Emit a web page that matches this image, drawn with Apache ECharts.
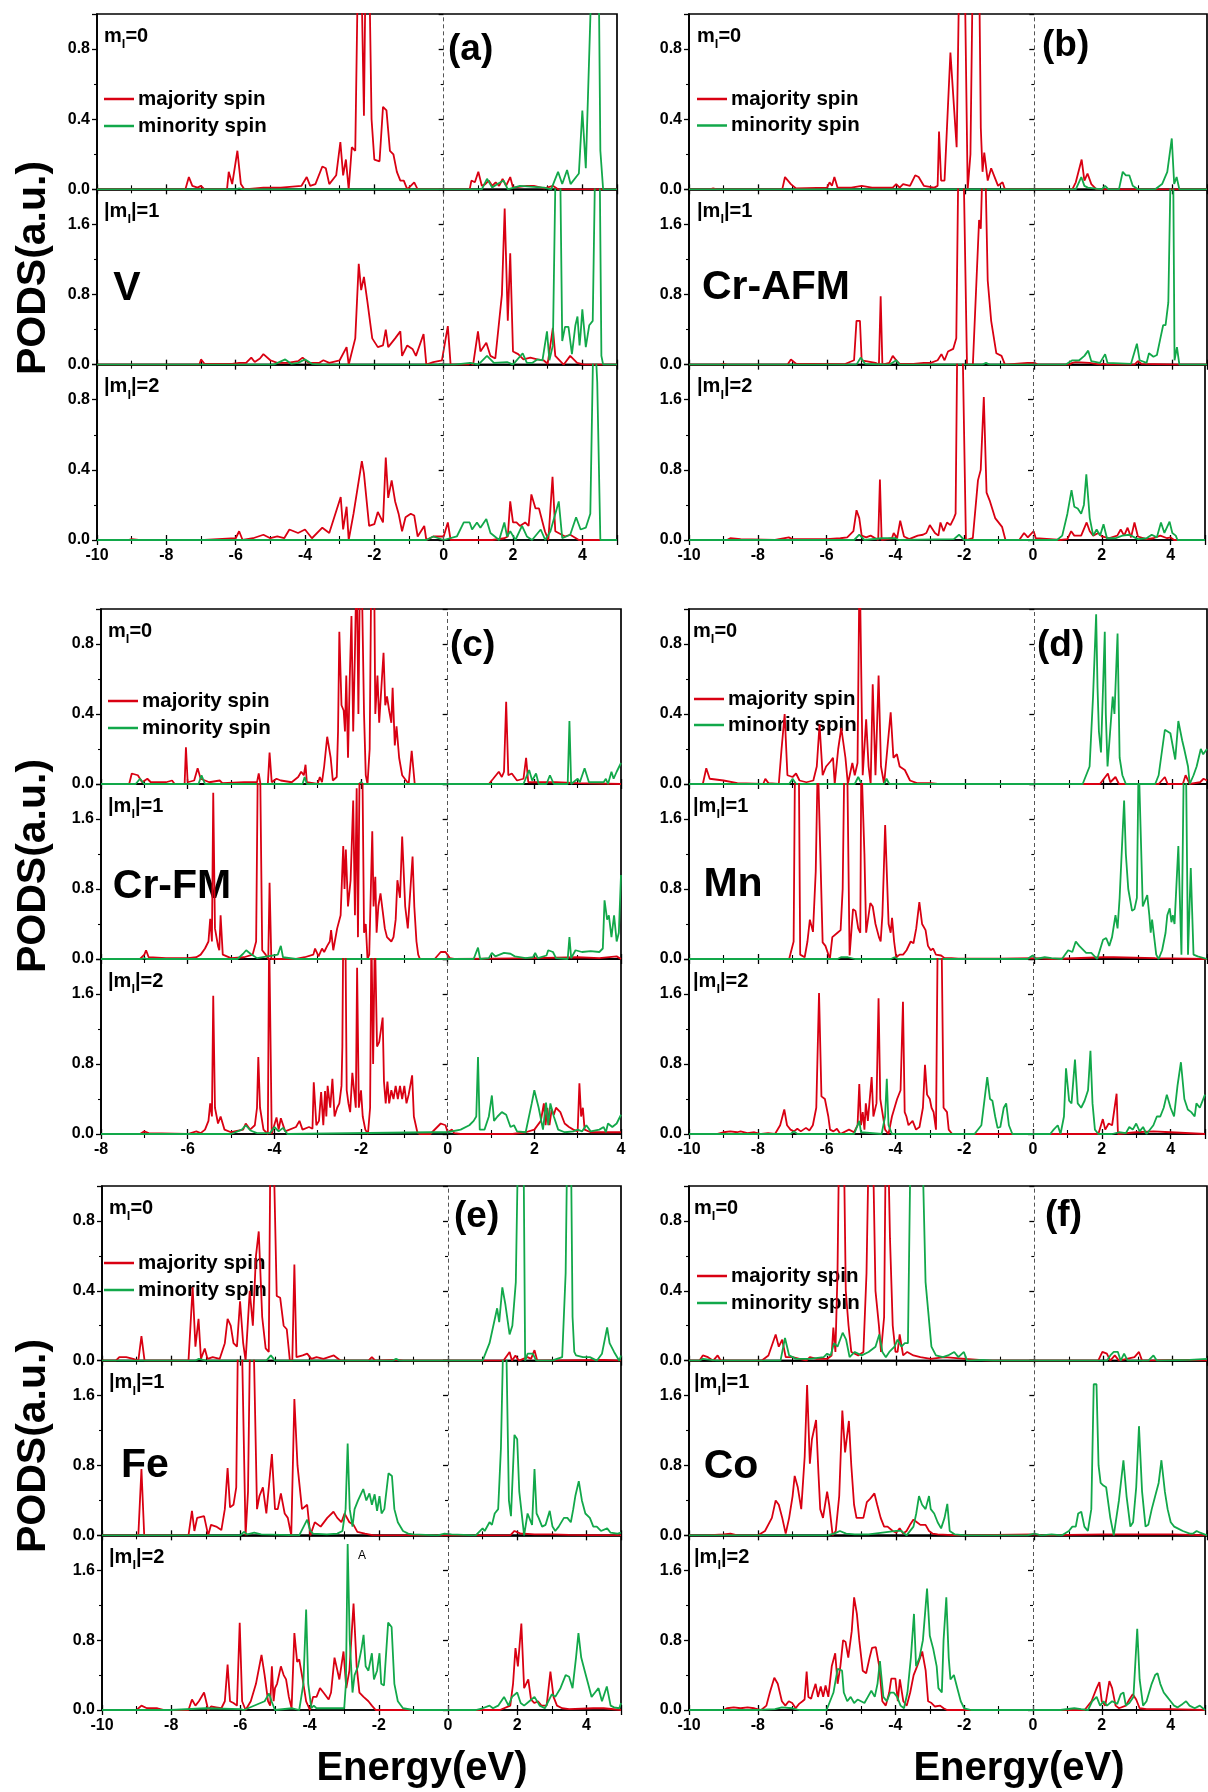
<!DOCTYPE html>
<html>
<head>
<meta charset="utf-8">
<script src="https://cdn.jsdelivr.net/npm/echarts@6/dist/echarts.min.js"></script>
<style>
  html, body { margin: 0; padding: 0; background: #fff; }
  #chart { width: 1208px; height: 1792px; }
</style>
</head>
<body>
<div id="chart"></div>
<script>
// ---- data: [energy (eV), PODS (a.u.)] ----
// (a) V
var aMaj0 = [[-10,0],[-7.45,0],[-7.35,0.07],[-7.25,0.02],[-7.1,0.01],[-7.0,0.02],[-6.9,0],[-6.25,0],[-6.2,0.1],[-6.1,0.03],[-5.95,0.22],[-5.85,0.03],[-5.75,0],[-5.2,0.01],[-4.7,0.01],[-4.1,0.02],[-3.95,0.07],[-3.85,0.02],[-3.7,0.03],[-3.5,0.13],[-3.4,0.12],[-3.3,0.03],[-3.1,0.08],[-2.98,0.27],[-2.9,0.08],[-2.82,0.17],[-2.74,0],[-2.65,0.24],[-2.55,0.22],[-2.47,1.3],[-2.38,1.3],[-2.3,0.42],[-2.25,1.3],[-2.15,1.3],[-2.08,0.4],[-2.0,0.17],[-1.85,0.16],[-1.75,0.47],[-1.65,0.45],[-1.55,0.22],[-1.45,0.2],[-1.35,0.1],[-1.25,0.05],[-1.15,0.05],[-1.05,0],[-0.85,0.04],[-0.75,0],[0.75,0],[0.8,0.05],[0.9,0.04],[1.0,0.1],[1.1,0.02],[1.2,0.03],[1.3,0.05],[1.4,0.02],[1.5,0.04],[1.6,0.02],[1.7,0.06],[1.8,0.02],[1.92,0.07],[2.0,0.01],[2.4,0.02],[2.6,0.02],[2.9,0.005],[3.15,0.02],[3.3,0],[5,0]];
var aMin0 = [[-10,0],[-6.0,0],[-5.9,0.005],[-5.8,0],[1.1,0],[1.25,0.06],[1.4,0.01],[1.55,0.03],[1.73,0.05],[1.85,0],[2.2,0.02],[2.5,0.015],[2.9,0.01],[3.1,0],[3.3,0.1],[3.42,0.03],[3.56,0.11],[3.66,0.03],[3.9,0.09],[4.0,0.45],[4.1,0.12],[4.28,1.3],[4.47,1.3],[4.52,0.22],[4.6,0],[5,0]];
var aMaj1 = [[-10,0],[-9.05,0],[-9.0,0.01],[-8.95,0],[-7.05,0],[-7.0,0.06],[-6.9,0.01],[-6.1,0.01],[-5.9,0.02],[-5.7,0.02],[-5.55,0.08],[-5.45,0.03],[-5.3,0.07],[-5.2,0.12],[-5.0,0.05],[-4.8,0.02],[-4.5,0.02],[-4.2,0.04],[-4.07,0.08],[-3.9,0.02],[-3.6,0.02],[-3.47,0.05],[-3.3,0.02],[-3.0,0.05],[-2.8,0.2],[-2.74,0],[-2.55,0.3],[-2.45,1.15],[-2.38,0.85],[-2.3,1.0],[-2.2,0.72],[-2.06,0.3],[-1.9,0.2],[-1.75,0.22],[-1.67,0.4],[-1.6,0.2],[-1.4,0.3],[-1.25,0.38],[-1.2,0.1],[-1.05,0.22],[-0.9,0.18],[-0.8,0.1],[-0.58,0.35],[-0.5,0],[-0.3,0.03],[-0.05,0.05],[0.12,0.44],[0.2,0],[0.7,0],[0.77,0.02],[0.85,0],[0.99,0.38],[1.06,0.15],[1.23,0.25],[1.35,0.1],[1.49,0.07],[1.68,0.8],[1.76,1.78],[1.85,0.5],[1.92,1.27],[2.0,0.15],[2.15,0.12],[2.3,0.06],[2.5,0.08],[2.7,0.06],[2.88,0.05],[3.0,0.01],[3.15,0.42],[3.22,0.1],[3.46,0],[3.65,0.1],[3.85,0.02],[4.05,0],[5,0]];
var aMin1 = [[-10,0],[-4.9,0],[-4.57,0.06],[-4.4,0.01],[-4.2,0.02],[-4.0,0.06],[-3.8,0.01],[-3.5,0],[0.3,0],[0.77,0.02],[1.0,0],[1.25,0.1],[1.45,0.02],[1.83,0.03],[2.0,0],[2.28,0.13],[2.4,0.02],[2.55,0.02],[2.7,0.06],[2.85,0.05],[2.98,0.38],[3.05,0.05],[3.15,0.22],[3.23,2.3],[3.36,2.3],[3.42,0.27],[3.5,0.43],[3.6,0.43],[3.7,0.12],[3.8,0.45],[3.86,0.55],[3.92,0.22],[3.95,0.35],[4.0,0.63],[4.1,0.2],[4.2,0.45],[4.3,0.5],[4.37,2.3],[4.5,2.3],[4.55,0.1],[4.6,0],[5,0]];
var aMaj2 = [[-10,0],[-9.1,0],[-9.0,0.005],[-8.8,0],[-7.05,0],[-7.0,0.01],[-6.9,0],[-6.0,0.01],[-5.9,0.05],[-5.8,0],[-5.5,0.01],[-5.2,0.03],[-5.0,0.01],[-4.8,0.02],[-4.6,0.01],[-4.45,0.06],[-4.2,0.04],[-4.0,0.06],[-3.8,0.01],[-3.5,0.07],[-3.3,0.04],[-2.97,0.245],[-2.9,0.06],[-2.8,0.19],[-2.74,0],[-2.6,0.15],[-2.36,0.45],[-2.3,0.38],[-2.15,0.08],[-2.0,0.09],[-1.9,0.16],[-1.75,0.1],[-1.67,0.47],[-1.6,0.24],[-1.5,0.34],[-1.4,0.22],[-1.3,0.15],[-1.2,0.05],[-1.1,0.13],[-0.95,0.15],[-0.85,0.14],[-0.75,0.02],[-0.56,0.08],[-0.5,0],[-0.3,0.02],[0.0,0.02],[0.12,0.1],[0.2,0],[1.4,0],[1.75,0.01],[1.85,0.02],[1.92,0.22],[2.0,0.1],[2.1,0.1],[2.2,0.08],[2.35,0.1],[2.45,0.08],[2.53,0.26],[2.65,0.18],[2.75,0.18],[2.92,0.05],[3.02,0],[3.14,0.36],[3.22,0.05],[3.5,0.02],[3.65,0.03],[3.9,0],[5,0]];
var aMin2 = [[-10,0],[-0.5,0],[-0.3,0.02],[0.0,0],[0.38,0.02],[0.58,0.1],[0.75,0.1],[0.82,0.06],[0.96,0.1],[1.06,0.07],[1.23,0.12],[1.35,0.04],[1.6,0],[1.75,0.1],[1.83,0.02],[1.92,0.05],[2.07,0],[2.26,0.08],[2.4,0.02],[2.55,0],[2.8,0.06],[2.93,0],[3.08,0.05],[3.32,0.22],[3.42,0.01],[3.65,0.03],[3.82,0.13],[3.95,0.06],[4.1,0.07],[4.23,0.15],[4.33,1.3],[4.43,0.9],[4.52,0],[5,0]];
// (b) Cr-AFM
var bMaj0 = [[-10,0],[-9.4,0],[-9.3,0.005],[-9.2,0],[-7.3,0],[-7.22,0.07],[-7.05,0.03],[-6.9,0.005],[-6.0,0.01],[-5.93,0.04],[-5.86,0.02],[-5.79,0.07],[-5.7,0.01],[-5.3,0.01],[-5.0,0.02],[-4.7,0.01],[-4.1,0.01],[-4.0,0.03],[-3.9,0.01],[-3.8,0.03],[-3.6,0.02],[-3.45,0.08],[-3.35,0.07],[-3.2,0.02],[-2.9,0.01],[-2.8,0.02],[-2.76,0.33],[-2.7,0.05],[-2.6,0.05],[-2.43,0.78],[-2.25,0.24],[-2.17,1.3],[-2.02,1.3],[-1.93,0],[-1.85,0.2],[-1.78,1.3],[-1.6,1.3],[-1.55,0.35],[-1.5,0.1],[-1.45,0.21],[-1.35,0.05],[-1.25,0.12],[-1.15,0.07],[-1.05,0.02],[-0.92,0.04],[-0.85,0],[1.1,0],[1.2,0.04],[1.37,0.17],[1.45,0.05],[1.54,0.09],[1.65,0.03],[1.8,0],[5,0]];
var bMin0 = [[-10,0],[1.2,0],[1.36,0.07],[1.45,0.02],[1.55,0.01],[1.95,0],[2.05,0.02],[2.15,0],[2.45,0],[2.56,0.1],[2.65,0.08],[2.75,0.08],[2.85,0.02],[3.0,0],[3.5,0],[3.7,0.03],[3.85,0.1],[3.98,0.29],[4.05,0.03],[4.12,0.07],[4.2,0],[5,0]];
var bMaj1 = [[-10,0],[-9.1,0],[-9.0,0.01],[-8.9,0],[-7.15,0],[-7.05,0.06],[-6.9,0.01],[-6.5,0.01],[-5.5,0.005],[-5.22,0.05],[-5.15,0.5],[-5.05,0.5],[-5.0,0.05],[-4.6,0.02],[-4.5,0],[-4.45,0.78],[-4.4,0],[-4.2,0.02],[-4.1,0.1],[-4.0,0.05],[-3.9,0.01],[-3.5,0.01],[-3.2,0.02],[-3.0,0.02],[-2.8,0.05],[-2.69,0.12],[-2.6,0.05],[-2.5,0.15],[-2.35,0.18],[-2.26,0.3],[-2.2,2.3],[-2.05,2.3],[-1.95,0],[-1.78,0],[-1.6,1.65],[-1.55,1.55],[-1.5,2.3],[-1.42,2.3],[-1.35,0.96],[-1.25,0.5],[-1.1,0.13],[-0.95,0.1],[-0.85,0],[-0.2,0.02],[0.0,0.02],[0.1,0],[1.0,0],[1.1,0.02],[1.2,0.03],[1.6,0.02],[1.9,0],[2.0,0.01],[2.1,0],[2.9,0],[3.0,0.04],[3.1,0.01],[4.2,0],[5,0]];
var bMin1 = [[-10,0],[-5.15,0],[-5.03,0.08],[-4.9,0.01],[-4.2,0],[-4.0,0.05],[-3.9,0],[-1.5,0],[-1.4,0.02],[-1.3,0],[0.9,0],[1.1,0.05],[1.3,0.05],[1.45,0.1],[1.56,0.16],[1.65,0.04],[1.9,0.02],[2.05,0.12],[2.12,0.02],[2.8,0.01],[2.97,0.24],[3.05,0.05],[3.25,0.02],[3.32,0.13],[3.45,0.09],[3.55,0.11],[3.65,0.3],[3.73,0.45],[3.8,0.45],[3.88,0.71],[3.95,2.3],[4.02,2.3],[4.06,0.05],[4.13,0.2],[4.2,0],[5,0]];
var bMaj2 = [[-10,0],[-8.9,0],[-8.8,0.02],[-8.5,0.01],[-7.5,0],[-7.1,0.03],[-7.0,0.01],[-6.0,0.01],[-5.6,0.02],[-5.4,0.03],[-5.22,0.1],[-5.13,0.34],[-5.05,0.25],[-4.98,0.05],[-4.85,0.03],[-4.72,0.05],[-4.5,0],[-4.45,0.69],[-4.4,0],[-4.1,0.02],[-4.05,0.08],[-3.95,0.02],[-3.86,0.22],[-3.75,0.04],[-3.6,0.01],[-3.35,0.05],[-3.2,0.06],[-3.1,0.08],[-3.0,0.17],[-2.85,0.08],[-2.75,0.05],[-2.69,0.2],[-2.6,0.1],[-2.5,0.2],[-2.4,0.17],[-2.3,0.25],[-2.25,0.3],[-2.2,2.3],[-2.05,2.3],[-1.95,0],[-1.75,0.02],[-1.6,0.68],[-1.52,0.8],[-1.43,1.63],[-1.35,0.54],[-1.25,0.44],[-1.1,0.25],[-0.9,0.15],[-0.8,0],[-0.4,0],[-0.26,0.08],[-0.15,0.03],[0.02,0.1],[0.08,0.02],[0.5,0.01],[0.8,0],[1.0,0.01],[1.11,0.1],[1.2,0.05],[1.4,0.05],[1.56,0.2],[1.65,0.1],[1.75,0.05],[1.9,0.08],[2.0,0.04],[2.2,0.02],[2.45,0.05],[2.55,0.12],[2.65,0.05],[2.75,0.14],[2.85,0.03],[2.95,0.2],[3.05,0.04],[3.3,0.01],[3.5,0.02],[3.7,0.05],[3.9,0.02],[4.0,0.03],[4.1,0],[5,0]];
var bMin2 = [[-10,0],[-5.2,0],[-5.05,0.06],[-4.9,0],[-4.4,0.02],[-4.0,0.02],[-3.9,0],[-2.3,0.01],[-2.15,0.06],[-2.0,0],[0.7,0],[0.85,0.05],[1.0,0.3],[1.12,0.57],[1.2,0.38],[1.3,0.36],[1.4,0.3],[1.48,0.4],[1.55,0.75],[1.65,0.25],[1.75,0.05],[1.85,0.12],[1.95,0.05],[2.05,0.18],[2.15,0.02],[2.4,0.02],[2.6,0.05],[2.8,0.06],[2.95,0.03],[3.05,0.01],[3.3,0.02],[3.45,0.06],[3.6,0.03],[3.72,0.2],[3.82,0.08],[3.97,0.21],[4.05,0.08],[4.15,0.05],[4.2,0],[5,0]];
// (c) Cr-FM
var cMaj0 = [[-8,0],[-7.35,0],[-7.29,0.06],[-7.15,0.05],[-7.05,0.01],[-6.93,0.03],[-6.85,0.01],[-6.5,0.01],[-6.36,0.02],[-6.3,0],[-6.07,0],[-6.04,0.21],[-6.0,0.01],[-5.85,0.02],[-5.77,0.09],[-5.7,0.03],[-5.5,0.01],[-5.26,0.02],[-5.2,0.005],[-4.7,0.01],[-4.4,0.01],[-4.36,0.06],[-4.32,0],[-4.15,0],[-4.11,0.18],[-4.06,0.01],[-3.95,0.03],[-3.85,0.02],[-3.6,0.01],[-3.45,0.04],[-3.38,0.07],[-3.32,0.05],[-3.28,0.11],[-3.25,0.01],[-3.0,0],[-2.95,0.04],[-2.9,0.01],[-2.85,0.1],[-2.78,0.27],[-2.7,0.15],[-2.65,0.02],[-2.56,0.04],[-2.53,0.3],[-2.5,0.87],[-2.45,0.45],[-2.4,0.42],[-2.37,0.3],[-2.34,0.62],[-2.3,0.15],[-2.26,0.6],[-2.22,0.96],[-2.18,0.3],[-2.14,0.75],[-2.1,1.3],[-2.06,0.4],[-2.02,1.3],[-1.97,1.0],[-1.93,0.4],[-1.89,0.05],[-1.85,0],[-1.8,0.2],[-1.76,1.3],[-1.7,1.3],[-1.67,0.4],[-1.62,0.62],[-1.58,0.35],[-1.53,0.55],[-1.48,0.75],[-1.44,0.45],[-1.4,0.5],[-1.35,0.42],[-1.3,0.35],[-1.27,0.55],[-1.22,0.22],[-1.18,0.33],[-1.12,0.15],[-1.05,0.05],[-0.9,0],[-0.83,0.19],[-0.76,0],[0.95,0],[1.05,0.03],[1.18,0.07],[1.25,0.04],[1.3,0.07],[1.35,0.47],[1.4,0.05],[1.48,0.06],[1.6,0.02],[1.75,0.03],[1.81,0.15],[1.86,0.01],[2.0,0.01],[2.5,0.01],[3.0,0.005],[4,0]];
var cMin0 = [[-8,0],[-7.2,0],[-7.1,0.03],[-7.0,0],[-5.75,0],[-5.68,0.05],[-5.6,0],[-3.35,0],[-3.3,0.04],[-3.25,0],[-2.05,0],[-2.0,0.01],[-1.95,0],[1.75,0],[1.88,0.08],[1.95,0.02],[2.04,0.06],[2.1,0],[2.28,0],[2.36,0.05],[2.45,0],[2.77,0],[2.81,0.36],[2.85,0],[3.0,0.03],[3.05,0.01],[3.16,0.09],[3.26,0.01],[3.6,0.01],[3.65,0.03],[3.7,0],[3.78,0.07],[3.83,0.03],[3.9,0.07],[4.0,0.12]];
var cMaj1 = [[-8,0],[-7.1,0],[-7.0,0.05],[-6.96,0.1],[-6.9,0.02],[-6.5,0.01],[-6.0,0.01],[-5.8,0.02],[-5.7,0.05],[-5.6,0.12],[-5.52,0.2],[-5.48,0.46],[-5.44,0.2],[-5.41,1.9],[-5.37,0.35],[-5.3,0.15],[-5.27,0.1],[-5.24,0.5],[-5.19,0.05],[-5.0,0.01],[-4.7,0.02],[-4.5,0.05],[-4.42,0.2],[-4.38,2.3],[-4.33,2.3],[-4.28,0.1],[-4.2,0.05],[-4.14,0],[-4.11,0.87],[-4.07,0],[-3.5,0],[-3.3,0.02],[-3.1,0.05],[-3.06,0.12],[-2.98,0.03],[-2.9,0.12],[-2.85,0.08],[-2.78,0.15],[-2.72,0.2],[-2.69,0.33],[-2.64,0.1],[-2.55,0.35],[-2.47,0.5],[-2.44,0.9],[-2.41,1.29],[-2.38,0.8],[-2.35,1.25],[-2.3,0.6],[-2.24,0.9],[-2.18,1.81],[-2.14,0.5],[-2.1,1.95],[-2.07,0.25],[-2.03,2.3],[-1.97,2.3],[-1.93,0.3],[-1.89,0.4],[-1.85,0],[-1.81,0.05],[-1.74,1.46],[-1.71,0.6],[-1.67,0.94],[-1.64,0.3],[-1.6,0.6],[-1.55,0.75],[-1.5,0.55],[-1.45,0.35],[-1.4,0.25],[-1.3,0.2],[-1.25,0.25],[-1.2,0.45],[-1.16,0.9],[-1.1,0.7],[-1.05,1.4],[-0.98,0.6],[-0.92,0.35],[-0.81,1.17],[-0.77,0.6],[-0.72,0.2],[-0.68,0.05],[-0.64,0],[-0.3,0],[-0.16,0.08],[-0.05,0.08],[0.05,0.01],[0.15,0],[1.0,0.005],[2.0,0.01],[3.0,0.02],[3.5,0.01],[3.9,0.03],[4,0]];
var cMin1 = [[-8,0],[-7.05,0],[-7.0,0.01],[-6.95,0],[-4.85,0],[-4.72,0.06],[-4.65,0.1],[-4.55,0.06],[-4.4,0.01],[-3.92,0.05],[-3.85,0.15],[-3.8,0.02],[-3.5,0],[0.6,0],[0.7,0.13],[0.75,0],[0.95,0.01],[1.02,0.07],[1.1,0.03],[1.2,0.05],[1.3,0.07],[1.45,0.06],[1.55,0.03],[1.8,0.01],[1.97,0.02],[2.02,0.07],[2.08,0.01],[2.28,0.04],[2.32,0.1],[2.43,0.08],[2.5,0.01],[2.77,0],[2.81,0.25],[2.85,0.01],[2.95,0.1],[3.1,0.08],[3.3,0.09],[3.5,0.08],[3.58,0.12],[3.62,0.67],[3.68,0.45],[3.72,0.5],[3.78,0.25],[3.84,0.5],[3.9,0.2],[3.95,0.3],[4.0,0.96]];
var cMaj2 = [[-8,0],[-7.1,0],[-7.0,0.03],[-6.96,0.05],[-6.9,0.01],[-6.0,0],[-5.8,0.03],[-5.7,0.01],[-5.6,0.05],[-5.52,0.15],[-5.48,0.35],[-5.44,0.2],[-5.41,1.58],[-5.37,0.3],[-5.3,0.12],[-5.24,0.2],[-5.15,0.05],[-5.0,0.02],[-4.72,0.05],[-4.66,0.12],[-4.56,0.05],[-4.45,0.1],[-4.4,0.3],[-4.37,0.88],[-4.33,0.3],[-4.25,0.05],[-4.15,0],[-4.12,2.3],[-4.09,2.3],[-4.06,0],[-3.95,0.19],[-3.9,0.05],[-3.85,0.18],[-3.75,0.03],[-3.5,0.08],[-3.42,0.15],[-3.35,0.05],[-3.2,0.08],[-3.12,0.06],[-3.09,0.59],[-3.03,0.1],[-2.97,0.15],[-2.92,0.48],[-2.87,0.1],[-2.83,0.49],[-2.8,0.2],[-2.77,0.55],[-2.71,0.3],[-2.66,0.63],[-2.61,0.2],[-2.55,0.3],[-2.5,0.35],[-2.45,0.55],[-2.43,1.0],[-2.41,2.3],[-2.36,2.3],[-2.33,0.5],[-2.29,0.35],[-2.25,0.25],[-2.2,0.7],[-2.15,0.45],[-2.12,0.3],[-2.09,1.9],[-2.05,0.3],[-2.0,0.5],[-1.96,0.2],[-1.9,0.05],[-1.84,0],[-1.79,0.3],[-1.76,2.3],[-1.72,0.8],[-1.68,2.3],[-1.63,1.0],[-1.58,1.05],[-1.5,1.33],[-1.47,0.6],[-1.43,0.35],[-1.39,0.6],[-1.35,0.35],[-1.3,0.5],[-1.25,0.4],[-1.2,0.55],[-1.15,0.4],[-1.1,0.55],[-1.05,0.4],[-1.0,0.55],[-0.95,0.35],[-0.9,0.45],[-0.82,0.67],[-0.78,0.2],[-0.7,0.02],[-0.65,0],[-0.4,0],[-0.16,0.12],[-0.05,0.1],[0.0,0.02],[0.1,0.05],[0.15,0.01],[0.3,0],[1.5,0],[1.8,0.02],[2.0,0.05],[2.15,0.15],[2.22,0.35],[2.26,0.1],[2.3,0.3],[2.35,0.1],[2.4,0.28],[2.45,0.22],[2.5,0.3],[2.6,0.25],[2.7,0.12],[2.8,0.08],[2.9,0.05],[3.0,0.03],[3.04,0.58],[3.08,0.2],[3.12,0.3],[3.16,0.05],[3.3,0.02],[4,0.02]];
var cMin2 = [[-8,0],[-5.0,0],[-4.75,0.05],[-4.66,0.1],[-4.55,0.04],[-4.4,0.01],[-4.1,0.01],[-4.0,0.08],[-3.9,0.03],[-3.8,0.07],[-3.7,0],[-0.4,0.02],[0.0,0.02],[0.3,0.05],[0.5,0.1],[0.6,0.15],[0.66,0.2],[0.7,0.88],[0.74,0.05],[0.85,0.05],[0.95,0.2],[1.02,0.44],[1.07,0.15],[1.15,0.2],[1.25,0.25],[1.35,0.22],[1.45,0.08],[1.53,0.1],[1.6,0.03],[1.8,0.02],[1.94,0.35],[2.0,0.5],[2.1,0.3],[2.2,0.05],[2.27,0.36],[2.32,0.1],[2.37,0.35],[2.45,0.2],[2.55,0.05],[2.7,0.02],[2.9,0.03],[3.0,0.05],[3.1,0.03],[3.2,0.1],[3.3,0.03],[3.5,0.05],[3.6,0.08],[3.65,0.02],[3.7,0.12],[3.8,0.08],[3.9,0.12],[4.0,0.22]];
// (d) Mn
var dMaj0 = [[-10,0],[-9.6,0],[-9.5,0.09],[-9.4,0.03],[-9.0,0.02],[-8.6,0.005],[-7.85,0],[-7.79,0.03],[-7.7,0.005],[-7.4,0],[-7.32,0.2],[-7.23,0.4],[-7.15,0.05],[-7.0,0.04],[-6.9,0.06],[-6.8,0.02],[-6.6,0.01],[-6.4,0.02],[-6.3,0.1],[-6.22,0.34],[-6.13,0.05],[-6.03,0.1],[-5.9,0.13],[-5.83,0.15],[-5.78,0],[-5.68,0.2],[-5.59,0.32],[-5.47,0.15],[-5.4,0],[-5.27,0.12],[-5.2,0.05],[-5.12,0.12],[-5.06,1.3],[-5.02,1.3],[-4.97,0.05],[-4.87,0.37],[-4.8,0.1],[-4.74,0],[-4.68,0.57],[-4.6,0.05],[-4.51,0.62],[-4.44,0.1],[-4.35,0],[-4.16,0.41],[-4.08,0.15],[-3.98,0.17],[-3.9,0.1],[-3.75,0.08],[-3.6,0.02],[-3.4,0.005],[-3.0,0.005],[-2.8,0],[1.9,0],[2.13,0.06],[2.2,0.01],[2.35,0.04],[2.45,0],[3.6,0],[3.78,0.04],[3.86,0],[4.3,0],[4.38,0.05],[4.5,0],[4.8,0.01],[4.9,0.03],[5,0.02]];
var dMin0 = [[-10,0],[-7.1,0],[-7.0,0.03],[-6.9,0],[-5.2,0],[-5.1,0.04],[-5.0,0],[-4.35,0],[-4.28,0.03],[-4.2,0],[1.4,0],[1.6,0.1],[1.7,0.5],[1.79,0.97],[1.83,0.55],[1.87,0.3],[1.93,0.18],[2.04,0.87],[2.07,0.4],[2.12,0.1],[2.27,0.5],[2.32,0.4],[2.41,0.86],[2.47,0.15],[2.55,0.05],[2.65,0],[3.5,0],[3.6,0.05],[3.78,0.31],[3.94,0.29],[4.08,0.14],[4.17,0.36],[4.28,0.25],[4.34,0.2],[4.45,0.1],[4.5,0],[4.61,0.05],[4.7,0.1],[4.82,0.2],[4.89,0.17],[5.0,0.2]];
var dMaj1 = [[-10,0],[-7.1,0],[-6.97,0.2],[-6.93,2.3],[-6.82,2.3],[-6.78,0.05],[-6.65,0.02],[-6.57,0.2],[-6.5,0.45],[-6.41,0.31],[-6.33,1.0],[-6.27,2.3],[-6.22,2.3],[-6.13,0.19],[-6.05,0.15],[-5.92,0],[-5.85,0.25],[-5.7,0.3],[-5.61,0.33],[-5.55,0.8],[-5.5,2.3],[-5.42,2.3],[-5.35,0.04],[-5.25,0.57],[-5.18,0.55],[-5.1,0.35],[-5.04,0.3],[-5.01,2.3],[-4.97,2.3],[-4.92,1.2],[-4.87,0.3],[-4.75,0.64],[-4.68,0.6],[-4.6,0.4],[-4.5,0.25],[-4.45,0.2],[-4.4,0.5],[-4.36,1.0],[-4.32,1.53],[-4.22,0.4],[-4.16,0.3],[-4.12,0.47],[-4.06,0.2],[-4.0,0.02],[-3.9,0.05],[-3.8,0.05],[-3.7,0.1],[-3.58,0.2],[-3.5,0.18],[-3.42,0.35],[-3.33,0.65],[-3.25,0.4],[-3.15,0.33],[-3.08,0.15],[-3.0,0.1],[-2.93,0.12],[-2.85,0.05],[-2.7,0.04],[-2.6,0.01],[-2.4,0.01],[-2.2,0.005],[-1.0,0.005],[0.0,0.01],[0.5,0],[2.0,0.02],[2.3,0.02],[3.5,0.01],[5,0]];
var dMin1 = [[-10,0],[-5.7,0],[-5.6,0.02],[-5.4,0.02],[-5.2,0],[-4.15,0],[-4.05,0.02],[-3.95,0],[-0.2,0],[-0.05,0.04],[0.05,0],[0.3,0.02],[0.5,0.01],[0.8,0],[0.98,0.1],[1.1,0.08],[1.2,0.2],[1.3,0.15],[1.5,0.07],[1.65,0.07],[1.82,0],[1.99,0.22],[2.08,0.24],[2.17,0.15],[2.25,0.25],[2.35,0.5],[2.41,0.35],[2.47,0.7],[2.6,1.81],[2.65,1.2],[2.72,0.8],[2.83,0.55],[2.9,0.57],[2.97,0.7],[3.02,2.3],[3.07,2.3],[3.14,0.6],[3.27,0.73],[3.33,0.5],[3.37,0.3],[3.41,0.45],[3.53,0.05],[3.6,0],[3.7,0.1],[3.8,0.3],[3.85,0.5],[3.92,0.58],[3.97,0.42],[4.01,0.5],[4.06,0.4],[4.17,1.29],[4.26,0.05],[4.33,2.3],[4.39,2.3],[4.45,0.05],[4.53,1.04],[4.61,0.05],[4.73,0.03],[5,0]];
var dMaj2 = [[-10,0],[-9.2,0],[-9.0,0.02],[-8.8,0.03],[-8.6,0.02],[-8.5,0.03],[-8.3,0.01],[-8.1,0.02],[-7.9,0],[-7.7,0.01],[-7.5,0],[-7.35,0.1],[-7.23,0.28],[-7.15,0.1],[-7.05,0.05],[-6.95,0.03],[-6.85,0.06],[-6.75,0.03],[-6.6,0.07],[-6.5,0.04],[-6.4,0.1],[-6.3,0.3],[-6.22,1.61],[-6.15,0.43],[-6.05,0.4],[-5.95,0.2],[-5.9,0.05],[-5.8,0.03],[-5.7,0.06],[-5.6,0],[-5.35,0.05],[-5.2,0.02],[-5.1,0.1],[-5.05,0.57],[-5.0,0.1],[-4.95,0.25],[-4.9,0.05],[-4.86,0.35],[-4.8,0.15],[-4.69,0.65],[-4.64,0.2],[-4.6,0.2],[-4.55,0.35],[-4.49,1.55],[-4.44,0.4],[-4.38,0.25],[-4.3,0.05],[-4.2,0],[-4.1,0.2],[-3.95,0.4],[-3.85,0.5],[-3.78,1.51],[-3.73,0.25],[-3.68,0.2],[-3.62,0.1],[-3.5,0.15],[-3.4,0.05],[-3.3,0.08],[-3.2,0.3],[-3.14,0.79],[-3.08,0.45],[-3.0,0.4],[-2.95,0.3],[-2.89,0.25],[-2.82,0.05],[-2.77,2.3],[-2.66,2.3],[-2.6,0.3],[-2.5,0.25],[-2.45,0.05],[-2.35,0],[1.9,0],[2.03,0.17],[2.1,0.05],[2.2,0.12],[2.3,0.1],[2.35,0.12],[2.43,0.46],[2.47,0],[3.0,0.02],[3.5,0.03],[4.0,0.02],[5,0]];
var dMin2 = [[-10,0],[-7.05,0],[-6.95,0.03],[-6.85,0],[-5.2,0],[-5.1,0.1],[-5.05,0.15],[-5.0,0.02],[-4.4,0],[-4.3,0.2],[-4.25,0.63],[-4.2,0.1],[-4.1,0],[-1.7,0],[-1.5,0.1],[-1.33,0.65],[-1.25,0.4],[-1.18,0.38],[-1.1,0.2],[-1.03,0.07],[-0.95,0.08],[-0.85,0.3],[-0.78,0.35],[-0.7,0.1],[-0.6,0],[0.5,0],[0.6,0.05],[0.72,0.1],[0.8,0],[0.9,0.2],[0.96,0.75],[1.05,0.38],[1.12,0.35],[1.22,0.85],[1.3,0.35],[1.4,0.3],[1.5,0.38],[1.6,0.5],[1.67,0.95],[1.73,0.35],[1.8,0.05],[1.9,0],[2.3,0],[2.5,0.02],[2.7,0.01],[2.8,0.08],[2.9,0.05],[3.0,0.12],[3.1,0.03],[3.2,0.08],[3.3,0],[3.5,0.1],[3.6,0.2],[3.7,0.2],[3.8,0.3],[3.89,0.45],[4.0,0.3],[4.1,0.2],[4.2,0.55],[4.3,0.82],[4.4,0.4],[4.5,0.28],[4.6,0.25],[4.7,0.2],[4.75,0.35],[4.85,0.3],[5.0,0.45]];
// (e) Fe
var eMaj0 = [[-10,0],[-9.6,0],[-9.5,0.02],[-9.3,0.02],[-9.1,0.01],[-8.95,0],[-8.86,0.14],[-8.77,0],[-7.5,0],[-7.38,0.42],[-7.3,0.08],[-7.21,0.24],[-7.14,0.01],[-7.03,0.07],[-6.95,0.01],[-6.8,0.02],[-6.6,0.01],[-6.45,0.1],[-6.37,0.24],[-6.28,0.2],[-6.2,0.1],[-6.1,0.08],[-6.01,0.34],[-5.92,0.1],[-5.85,0],[-5.73,0.4],[-5.64,0.2],[-5.55,0.6],[-5.47,0.74],[-5.37,0.25],[-5.27,0.07],[-5.18,0.05],[-5.13,1.3],[-5.05,1.3],[-4.95,0.37],[-4.85,0.36],[-4.75,0.2],[-4.66,0.18],[-4.57,0],[-4.5,0],[-4.44,0.55],[-4.38,0.02],[-4.2,0.03],[-4.07,0.04],[-3.95,0.01],[-3.8,0.02],[-3.6,0.01],[-3.3,0.03],[-3.1,0],[-2.3,0],[-2.2,0.02],[-2.1,0],[-1.5,0.005],[-1.3,0],[1.6,0],[1.78,0.05],[1.85,0],[1.95,0.03],[2.05,0],[2.3,0.02],[2.4,0.01],[2.5,0.06],[2.58,0],[4.5,0.005],[5,0]];
var eMin0 = [[-10,0],[-7.3,0],[-7.2,0.01],[-7.0,0],[-5.25,0],[-5.12,0.03],[-5.0,0],[-1.6,0],[-1.5,0.01],[-1.4,0],[1.0,0],[1.2,0.1],[1.42,0.3],[1.48,0.22],[1.57,0.42],[1.66,0.32],[1.78,0.15],[1.86,0.2],[1.96,0.45],[2.03,1.3],[2.18,1.3],[2.23,0],[2.3,0.04],[2.45,0.04],[2.55,0],[3.0,0],[3.3,0.02],[3.4,0.5],[3.45,1.3],[3.55,1.3],[3.6,0.25],[3.65,0.05],[3.7,0.03],[3.9,0.02],[4.1,0.02],[4.3,0],[4.45,0.04],[4.6,0.19],[4.67,0.1],[4.8,0.05],[4.95,0],[5.0,0.03]];
var eMaj1 = [[-10,0],[-8.95,0],[-8.86,0.76],[-8.78,0],[-7.5,0],[-7.4,0.28],[-7.33,0.05],[-7.25,0.2],[-7.05,0.22],[-6.93,0],[-6.85,0.12],[-6.7,0.1],[-6.55,0.06],[-6.45,0.3],[-6.37,0.77],[-6.3,0.32],[-6.2,0.35],[-6.12,0.55],[-6.07,2.3],[-5.96,2.3],[-5.85,0],[-5.78,0.5],[-5.72,2.3],[-5.62,2.3],[-5.52,0.3],[-5.45,0.45],[-5.35,0.55],[-5.25,0.25],[-5.09,0.93],[-5.0,0.3],[-4.92,0.3],[-4.83,0.48],[-4.72,0.25],[-4.63,0.2],[-4.53,0],[-4.44,1.56],[-4.35,0.8],[-4.22,0.3],[-4.07,0.35],[-3.98,0],[-3.85,0.15],[-3.68,0.1],[-3.49,0.2],[-3.31,0.27],[-3.2,0.2],[-3.08,0.15],[-2.99,0.25],[-2.85,0.15],[-2.73,0.12],[-2.62,0.04],[-2.4,0.02],[-2.15,0],[1.8,0],[1.92,0.05],[2.1,0.02],[2.2,0.02],[2.5,0.01],[3.0,0.01],[3.5,0.005],[5,0]];
var eMin1 = [[-10,0],[-6.0,0],[-5.9,0.04],[-5.8,0.01],[-5.6,0.03],[-5.4,0.01],[-4.3,0],[-4.07,0.18],[-3.98,0.05],[-3.9,0.02],[-3.5,0.01],[-3.2,0.02],[-3.05,0.05],[-2.96,0.3],[-2.9,1.05],[-2.84,0.3],[-2.76,0.1],[-2.7,0.3],[-2.6,0.4],[-2.45,0.53],[-2.36,0.4],[-2.27,0.48],[-2.2,0.35],[-2.12,0.47],[-2.05,0.28],[-1.98,0.45],[-1.92,0.25],[-1.84,0.3],[-1.72,0.71],[-1.62,0.68],[-1.55,0.3],[-1.45,0.15],[-1.3,0.05],[-1.15,0.02],[-1.0,0.01],[-0.3,0],[-0.1,0.02],[0.1,0.01],[0.8,0],[1.0,0.08],[1.06,0.05],[1.2,0.15],[1.27,0.12],[1.35,0.25],[1.45,0.3],[1.53,1.0],[1.6,2.3],[1.68,2.3],[1.76,0.4],[1.82,0.22],[1.92,1.15],[2.0,1.1],[2.06,0.5],[2.2,0],[2.3,0.25],[2.43,0.12],[2.5,0.76],[2.56,0.25],[2.62,0.2],[2.72,0.1],[2.82,0.12],[2.94,0.28],[3.02,0.1],[3.1,0.05],[3.2,0.1],[3.35,0.2],[3.45,0.2],[3.55,0.15],[3.62,0.3],[3.68,0.45],[3.78,0.62],[3.87,0.4],[3.97,0.25],[4.1,0.2],[4.2,0.1],[4.3,0.1],[4.42,0.05],[4.6,0.08],[4.7,0.03],[4.9,0.02],[5.0,0.03]];
var eMaj2 = [[-10,0],[-9.0,0],[-8.86,0.05],[-8.7,0.02],[-8.4,0.02],[-8.2,0],[-7.5,0],[-7.4,0.12],[-7.3,0.05],[-7.2,0.1],[-7.05,0.2],[-6.93,0],[-6.85,0.04],[-6.7,0.03],[-6.55,0.02],[-6.45,0.1],[-6.37,0.52],[-6.3,0.1],[-6.2,0.08],[-6.1,0.05],[-6.02,1.0],[-5.95,0.1],[-5.85,0],[-5.7,0.1],[-5.55,0.3],[-5.39,0.63],[-5.3,0.4],[-5.2,0.1],[-5.14,0.05],[-5.09,0.5],[-5.04,0.1],[-5.0,0.25],[-4.94,0.3],[-4.83,0.5],[-4.75,0.4],[-4.68,0.35],[-4.6,0.15],[-4.52,0.02],[-4.44,0.88],[-4.36,0.55],[-4.3,0.58],[-4.2,0.35],[-4.1,0.1],[-3.99,0],[-3.9,0.15],[-3.8,0.15],[-3.7,0.25],[-3.6,0.2],[-3.45,0.12],[-3.38,0.2],[-3.28,0.6],[-3.14,0.35],[-3.02,0.67],[-2.94,0.25],[-2.85,0.45],[-2.73,1.22],[-2.64,0.5],[-2.56,0.2],[-2.44,0.15],[-2.3,0.1],[-2.2,0.05],[-2.09,0],[1.5,0],[1.8,0.05],[1.88,0.3],[1.95,0.71],[2.02,0.5],[2.12,0.99],[2.2,0.25],[2.32,0.35],[2.4,0.12],[2.5,0.08],[2.6,0.1],[2.7,0.05],[2.85,0.05],[2.96,0.44],[3.05,0.15],[3.15,0.05],[3.3,0.02],[3.5,0.01],[4.2,0.02],[4.5,0.02],[5,0]];
var eMin2 = [[-10,0],[-8.0,0],[-7.0,0.02],[-6.0,0.01],[-5.9,0],[-5.3,0.1],[-5.17,0.19],[-5.1,0.1],[-5.0,0],[-4.5,0.02],[-4.3,0],[-4.18,0.3],[-4.1,1.15],[-4.04,0.3],[-3.95,0.02],[-3.88,0.05],[-3.8,0.02],[-3.0,0.02],[-2.95,0.3],[-2.9,1.9],[-2.84,0.8],[-2.76,0.2],[-2.7,0.4],[-2.6,0.5],[-2.5,0.7],[-2.44,0.86],[-2.38,0.5],[-2.3,0.45],[-2.2,0.65],[-2.14,0.35],[-2.05,0.45],[-1.98,0.65],[-1.93,0.3],[-1.85,0.28],[-1.73,1.0],[-1.63,0.95],[-1.55,0.3],[-1.45,0.1],[-1.3,0.02],[-1.0,0],[0.8,0],[1.0,0.02],[1.2,0.05],[1.3,0.02],[1.45,0.05],[1.62,0.15],[1.75,0.05],[1.85,0.15],[2.0,0.2],[2.1,0.08],[2.2,0.05],[2.35,0.1],[2.5,0.15],[2.65,0.05],[2.8,0.02],[2.9,0.1],[3.0,0.18],[3.1,0.15],[3.25,0.25],[3.4,0.4],[3.5,0.38],[3.6,0.25],[3.7,0.6],[3.77,0.88],[3.85,0.6],[3.95,0.45],[4.05,0.3],[4.15,0.15],[4.25,0.2],[4.35,0.25],[4.45,0.1],[4.59,0.27],[4.7,0.05],[4.8,0.03],[4.95,0.02],[5.0,0.08]];
// (f) Co
var fMaj0 = [[-10,0],[-9.7,0],[-9.6,0.03],[-9.45,0.02],[-9.3,0],[-9.17,0.03],[-9.08,0],[-7.9,0],[-7.7,0.03],[-7.49,0.15],[-7.4,0.08],[-7.3,0.12],[-7.2,0.02],[-7.0,0.02],[-6.8,0.01],[-6.6,0],[-6.5,0.02],[-6.3,0.01],[-6.0,0.01],[-5.87,0.03],[-5.82,0.19],[-5.76,0.05],[-5.7,0.5],[-5.65,1.3],[-5.52,1.3],[-5.46,0.4],[-5.38,0.2],[-5.3,0.05],[-5.1,0.03],[-4.95,0.05],[-4.86,0.5],[-4.79,1.3],[-4.68,1.3],[-4.6,0.4],[-4.5,0.2],[-4.44,0.05],[-4.35,0.25],[-4.3,1.3],[-4.24,1.3],[-4.18,0.7],[-4.1,0.2],[-4.02,0.05],[-3.96,0.05],[-3.9,0.15],[-3.8,0.03],[-3.68,0.05],[-3.5,0.03],[-3.3,0.02],[-3.0,0.01],[-2.6,0.02],[-2.0,0.01],[-1.6,0.005],[-1.4,0],[1.85,0],[1.97,0.05],[2.1,0.04],[2.2,0],[2.33,0.03],[2.45,0],[2.9,0.02],[3.03,0.05],[3.12,0],[4.5,0.005],[5,0]];
var fMin0 = [[-10,0],[-9.7,0],[-9.6,0.01],[-9.2,0],[-7.35,0],[-7.22,0.13],[-7.1,0.03],[-6.9,0.01],[-6.5,0.01],[-6.1,0.02],[-6.0,0.04],[-5.9,0.03],[-5.8,0.1],[-5.7,0.08],[-5.55,0.16],[-5.45,0.12],[-5.35,0.02],[-5.2,0.05],[-5.0,0.03],[-4.8,0.05],[-4.6,0.08],[-4.49,0.15],[-4.4,0.05],[-4.3,0.02],[-4.2,0.05],[-4.05,0.08],[-3.96,0.12],[-3.85,0.08],[-3.75,0.1],[-3.66,0.1],[-3.58,1.3],[-3.25,1.3],[-3.15,0.45],[-2.98,0.08],[-2.85,0.03],[-2.65,0.02],[-2.5,0.03],[-2.32,0.05],[-2.2,0.02],[-2.04,0.05],[-1.95,0],[-1.5,0.005],[-1.2,0],[2.1,0],[2.2,0.03],[2.3,0.05],[2.42,0.05],[2.5,0],[2.6,0.04],[2.7,0],[3.3,0],[3.45,0.03],[3.55,0],[4.5,0.005],[5,0.01]];
var fMaj1 = [[-10,0],[-9.5,0],[-9.0,0.01],[-8.8,0.02],[-8.6,0],[-8.0,0],[-7.8,0.05],[-7.6,0.2],[-7.49,0.4],[-7.4,0.35],[-7.3,0.2],[-7.2,0.02],[-7.1,0.2],[-7.0,0.45],[-6.94,0.68],[-6.85,0.55],[-6.75,0.3],[-6.65,0.9],[-6.58,1.72],[-6.5,0.82],[-6.44,1.1],[-6.32,1.32],[-6.25,0.7],[-6.2,0.3],[-6.12,0.2],[-6.0,0.5],[-5.94,0.35],[-5.84,0],[-5.75,0.05],[-5.65,0.45],[-5.56,1.43],[-5.48,0.95],[-5.37,1.31],[-5.3,0.8],[-5.22,0.35],[-5.15,0.2],[-5.05,0.2],[-4.95,0.2],[-4.85,0.38],[-4.75,0.42],[-4.63,0.48],[-4.55,0.35],[-4.45,0.2],[-4.35,0.1],[-4.25,0.1],[-4.1,0.05],[-4.0,0.03],[-3.9,0.08],[-3.8,0.02],[-3.7,0.05],[-3.6,0.12],[-3.5,0.18],[-3.4,0.15],[-3.3,0.12],[-3.15,0.12],[-3.05,0.05],[-2.95,0.02],[-2.8,0.01],[-2.5,0.005],[-2.2,0],[0.0,0.01],[0.3,0],[1.0,0.005],[2.0,0.01],[3.0,0.01],[4.0,0.01],[5,0]];
var fMin1 = [[-10,0],[-6.0,0],[-5.8,0.02],[-5.63,0.05],[-5.45,0.02],[-5.2,0.01],[-4.8,0.01],[-4.0,0.05],[-3.85,0.05],[-3.7,0],[-3.5,0.1],[-3.42,0.25],[-3.34,0.45],[-3.25,0.35],[-3.15,0.3],[-3.05,0.45],[-3.0,0.3],[-2.9,0.25],[-2.8,0.15],[-2.7,0.08],[-2.6,0.2],[-2.52,0.36],[-2.45,0.05],[-2.3,0.01],[-2.0,0],[-0.2,0],[0.0,0.02],[0.2,0],[0.5,0.01],[0.8,0],[1.0,0.05],[1.1,0.1],[1.2,0.1],[1.27,0.25],[1.36,0.27],[1.45,0.1],[1.55,0.05],[1.65,0.3],[1.72,1.73],[1.8,1.73],[1.86,0.8],[1.92,0.6],[2.0,0.57],[2.08,0.55],[2.2,0.2],[2.3,0],[2.45,0.4],[2.58,0.86],[2.67,0.45],[2.78,0.1],[2.86,0.15],[2.95,0.55],[3.03,1.25],[3.12,0.5],[3.22,0.1],[3.3,0.12],[3.4,0.3],[3.5,0.45],[3.6,0.6],[3.68,0.86],[3.78,0.5],[3.86,0.3],[3.95,0.15],[4.05,0.1],[4.15,0.08],[4.3,0.05],[4.5,0.02],[4.6,0.02],[4.7,0.05],[4.8,0.03],[5.0,0]];
var fMaj2 = [[-10,0],[-9.0,0],[-8.9,0.02],[-8.7,0.03],[-8.5,0.02],[-8.3,0.03],[-8.1,0.02],[-7.9,0],[-7.75,0.05],[-7.65,0.2],[-7.52,0.37],[-7.42,0.3],[-7.3,0.1],[-7.2,0.05],[-7.1,0.1],[-7.0,0.08],[-6.9,0.02],[-6.8,0.07],[-6.7,0.1],[-6.64,0.12],[-6.58,0.44],[-6.53,0.15],[-6.45,0.13],[-6.4,0.2],[-6.32,0.3],[-6.25,0.15],[-6.17,0.27],[-6.1,0.15],[-6.03,0.28],[-5.95,0.15],[-5.85,0.5],[-5.75,0.65],[-5.68,0.3],[-5.6,0.5],[-5.52,0.8],[-5.45,0.78],[-5.37,0.6],[-5.27,0.9],[-5.2,1.29],[-5.12,1.1],[-5.05,0.8],[-4.95,0.45],[-4.85,0.42],[-4.75,0.6],[-4.68,0.71],[-4.57,0.72],[-4.47,0.5],[-4.38,0.1],[-4.28,0.05],[-4.18,0.2],[-4.12,0.36],[-4.0,0.36],[-3.93,0.1],[-3.87,0.35],[-3.77,0.1],[-3.67,0.05],[-3.57,0.2],[-3.47,0.4],[-3.37,0.5],[-3.28,0.6],[-3.22,0.67],[-3.12,0.45],[-3.05,0.1],[-2.95,0.08],[-2.85,0.04],[-2.7,0.05],[-2.6,0.02],[-2.5,0],[1.5,0],[1.7,0.1],[1.85,0.25],[1.93,0.32],[2.0,0.1],[2.1,0.05],[2.22,0.33],[2.3,0.25],[2.4,0.05],[2.5,0.02],[2.7,0.05],[2.8,0.12],[2.9,0.18],[3.0,0.12],[3.1,0.02],[3.3,0.01],[4.0,0.01],[5,0]];
var fMin2 = [[-10,0],[-8.0,0],[-7.5,0.01],[-7.3,0.03],[-7.0,0.02],[-6.8,0],[-6.0,0],[-5.8,0.2],[-5.68,0.47],[-5.55,0.45],[-5.5,0.2],[-5.4,0.1],[-5.3,0.15],[-5.2,0.08],[-5.1,0.12],[-5.0,0.1],[-4.9,0.08],[-4.8,0.15],[-4.7,0.22],[-4.6,0.15],[-4.52,0.3],[-4.45,0.56],[-4.35,0.15],[-4.25,0.1],[-4.15,0.2],[-4.05,0.2],[-3.95,0.15],[-3.85,0.05],[-3.75,0.02],[-3.65,0.2],[-3.55,0.6],[-3.46,1.1],[-3.4,0.5],[-3.3,0.6],[-3.2,0.8],[-3.08,1.39],[-3.0,0.85],[-2.9,0.7],[-2.8,0.5],[-2.75,0.25],[-2.65,0.2],[-2.6,0.8],[-2.52,1.29],[-2.45,0.6],[-2.4,0.35],[-2.3,0.4],[-2.2,0.25],[-2.1,0.1],[-2.0,0.02],[-1.8,0],[0.8,0],[1.2,0.02],[1.4,0.01],[1.6,0],[1.72,0.1],[1.85,0.15],[1.95,0.05],[2.05,0.1],[2.15,0.05],[2.3,0.1],[2.45,0.07],[2.55,0.18],[2.63,0.2],[2.7,0.05],[2.8,0.08],[2.92,0.15],[3.03,0.93],[3.1,0.35],[3.2,0.05],[3.3,0.1],[3.45,0.3],[3.55,0.4],[3.62,0.42],[3.7,0.3],[3.8,0.2],[3.9,0.15],[4.0,0.1],[4.1,0.05],[4.2,0.03],[4.35,0.07],[4.45,0.1],[4.55,0.05],[4.7,0.02],[4.85,0.05],[5.0,0]];

var panelTags = ['(a)', '(b)', '(c)', '(d)', '(e)', '(f)'];
var elementNames = ['V', 'Cr-AFM', 'Cr-FM', 'Mn', 'Fe', 'Co'];
var energyRanges = [[-10, 5], [-10, 5], [-8, 4], [-10, 5], [-10, 5], [-10, 5]];
var yMaxima = [[1, 2, 1], [1, 2, 2], [1, 2, 2], [1, 2, 2], [1, 2, 2], [1, 2, 2]];
var mlValues = ['0', '1', '2'];
var legendNames = ['majority spin', 'minority spin'];
var majorityData = [[aMaj0, aMaj1, aMaj2], [bMaj0, bMaj1, bMaj2], [cMaj0, cMaj1, cMaj2], [dMaj0, dMaj1, dMaj2], [eMaj0, eMaj1, eMaj2], [fMaj0, fMaj1, fMaj2]];
var minorityData = [[aMin0, aMin1, aMin2], [bMin0, bMin1, bMin2], [cMin0, cMin1, cMin2], [dMin0, dMin1, dMin2], [eMin0, eMin1, eMin2], [fMin0, fMin1, fMin2]];

// ---- layout (pixels) ----
var FONT = '"Liberation Sans", Arial, Helvetica, sans-serif';
var RED = '#d90012', GREEN = '#12a84a';
var boxes = [
  { left: 97, width: 520, top: 14, height: 526 },
  { left: 689, width: 518, top: 14, height: 526 },
  { left: 101, width: 520, top: 609, height: 525 },
  { left: 689, width: 518, top: 609, height: 525 },
  { left: 102, width: 519, top: 1186, height: 524 },
  { left: 689, width: 518, top: 1186, height: 524 }
];
var tagPos = [[448, 50], [1042, 46], [450, 646], [1037, 646], [454, 1217], [1045, 1216]];
var elemPos = [[127, 289], [776, 288], [172, 887], [733, 885], [145, 1466], [731, 1467]];
var legendPos = [[104, 99, 126], [697, 99, 125.5], [108, 701, 728], [694, 699, 725], [104, 1263, 1290], [697, 1276, 1303]];
var mlX = [104, 697, 108, 693, 109, 694];

var grids = [], xAxes = [], yAxes = [], series = [], graphics = [];

panelTags.forEach(function (tag, p) {
  var b = boxes[p];
  var subH = b.height / 3;
  var xr = energyRanges[p];
  for (var k = 0; k < 3; k++) {
    var gi = grids.length;
    var top = b.top + k * subH;
    var ymax = yMaxima[p][k];
    var step = ymax === 1 ? 0.4 : 0.8;
    grids.push({ left: b.left, top: top, width: b.width, height: subH, show: true, borderColor: '#000', borderWidth: 1.7, backgroundColor: 'transparent' });
    xAxes.push({
      type: 'value', gridIndex: gi, min: xr[0], max: xr[1], interval: 2, position: 'bottom',
      axisLine: { show: true, onZero: false, lineStyle: { color: '#000', width: 1.7 } },
      axisTick: { show: true, inside: true, length: 5, lineStyle: { color: '#000', width: 1.3 } },
      minorTick: { show: true, splitNumber: 2, length: 4, lineStyle: { color: '#000', width: 1.1 } },
      splitLine: { show: false },
      axisLabel: {
        show: k === 2, margin: 8, color: '#000', fontSize: 16, fontWeight: 'bold', fontFamily: FONT,
        formatter: function (v) { return Math.abs(v % 2) < 1e-9 ? String(v) : ''; }
      }
    });
    xAxes.push({
      type: 'value', gridIndex: gi, min: xr[0], max: xr[1], interval: 2, position: 'top',
      axisLine: { show: false },
      axisTick: { show: true, inside: true, length: 5, lineStyle: { color: '#000', width: 1.3 } },
      minorTick: { show: true, splitNumber: 2, length: 4, lineStyle: { color: '#000', width: 1.1 } },
      splitLine: { show: false }, axisLabel: { show: false }
    });
    var fmt = (function (m) {
      return function (v) { return v >= m - 1e-9 ? '' : v.toFixed(1); };
    })(ymax);
    yAxes.push({
      type: 'value', gridIndex: gi, min: 0, max: ymax, interval: step, position: 'left',
      axisLine: { show: true, onZero: false, lineStyle: { color: '#000', width: 1.7 } },
      axisTick: { show: true, inside: false, length: 5, lineStyle: { color: '#000', width: 1.3 } },
      minorTick: { show: true, splitNumber: 2, length: 3, lineStyle: { color: '#000', width: 1.1 } },
      splitLine: { show: false },
      axisLabel: { margin: 7, color: '#000', fontSize: 16, fontWeight: 'bold', fontFamily: FONT, formatter: fmt }
    });
    yAxes.push({
      type: 'value', gridIndex: gi, min: 0, max: ymax, interval: step, position: 'right',
      axisLine: { show: false },
      axisTick: { show: true, inside: true, length: 5, lineStyle: { color: '#000', width: 1.3 } },
      minorTick: { show: true, splitNumber: 2, length: 3, lineStyle: { color: '#000', width: 1.1 } },
      splitLine: { show: false }, axisLabel: { show: false }
    });
    var xi = gi * 2, yi = gi * 2;
    series.push({
      name: legendNames[0], type: 'line', xAxisIndex: xi, yAxisIndex: yi,
      data: majorityData[p][k], symbol: 'none', clip: true, silent: true,
      lineStyle: { color: RED, width: 1.8 }, itemStyle: { color: RED },
      markLine: {
        silent: true, symbol: ['none', 'none'], label: { show: false },
        lineStyle: { type: [4, 3], color: '#555', width: 1 },
        data: [{ xAxis: 0 }]
      }
    });
    series.push({
      name: legendNames[1], type: 'line', xAxisIndex: xi, yAxisIndex: yi,
      data: minorityData[p][k], symbol: 'none', clip: true, silent: true,
      lineStyle: { color: GREEN, width: 1.8 }, itemStyle: { color: GREEN }
    });
    // m_l label with subscript l
    var lbl = k === 0 ? '{t|m}{s|l}{t|=' + mlValues[k] + '}' : '{t||m}{s|l}{t||=' + mlValues[k] + '}';
    graphics.push({
      type: 'text', x: mlX[p], y: top + 22, silent: true,
      style: {
        text: lbl, verticalAlign: 'middle', align: 'left',
        rich: {
          t: { fontSize: 20, fontWeight: 'bold', fontFamily: FONT, fill: '#000', lineHeight: 30, verticalAlign: 'middle' },
          s: { fontSize: 13, fontWeight: 'bold', fontFamily: FONT, fill: '#000', lineHeight: 13, verticalAlign: 'bottom' }
        }
      }
    });
  }
  graphics.push({ type: 'text', x: tagPos[p][0], y: tagPos[p][1], silent: true,
    style: { text: tag, fontSize: 37, fontWeight: 'bold', fontFamily: FONT, fill: '#000', align: 'left', verticalAlign: 'middle' } });
  graphics.push({ type: 'text', x: elemPos[p][0], y: elemPos[p][1], silent: true,
    style: { text: elementNames[p], fontSize: 41, fontWeight: 'bold', fontFamily: FONT, fill: '#000', align: 'center', verticalAlign: 'middle' } });
  var lp = legendPos[p];
  [RED, GREEN].forEach(function (c, j) {
    var ly = lp[1 + j];
    graphics.push({ type: 'line', silent: true, shape: { x1: lp[0], y1: ly, x2: lp[0] + 30, y2: ly }, style: { stroke: c, lineWidth: 2.5 } });
    graphics.push({ type: 'text', x: lp[0] + 34, y: ly, silent: true,
      style: { text: legendNames[j], fontSize: 20.5, fontWeight: 'bold', fontFamily: FONT, fill: '#000', align: 'left', verticalAlign: 'middle' } });
  });
});

[268, 866, 1446].forEach(function (cy) {
  graphics.push({ type: 'text', x: 34, y: cy, rotation: Math.PI / 2, silent: true,
    style: { text: 'PODS(a.u.)', fontSize: 41, fontWeight: 'bold', fontFamily: FONT, fill: '#000', align: 'center', verticalAlign: 'middle' } });
});
[422, 1019].forEach(function (cx) {
  graphics.push({ type: 'text', x: cx, y: 1769, silent: true,
    style: { text: 'Energy(eV)', fontSize: 40, fontWeight: 'bold', fontFamily: FONT, fill: '#000', align: 'center', verticalAlign: 'middle' } });
});
graphics.push({ type: 'text', x: 362, y: 1556, silent: true,
  style: { text: 'A', fontSize: 12, fontFamily: FONT, fill: '#000', align: 'center', verticalAlign: 'middle' } });

var chart = echarts.init(document.getElementById('chart'), null, { renderer: 'canvas' });
chart.setOption({
  animation: false,
  backgroundColor: '#fff',
  grid: grids,
  xAxis: xAxes,
  yAxis: yAxes,
  series: series,
  graphic: graphics
});
</script>
</body>
</html>
